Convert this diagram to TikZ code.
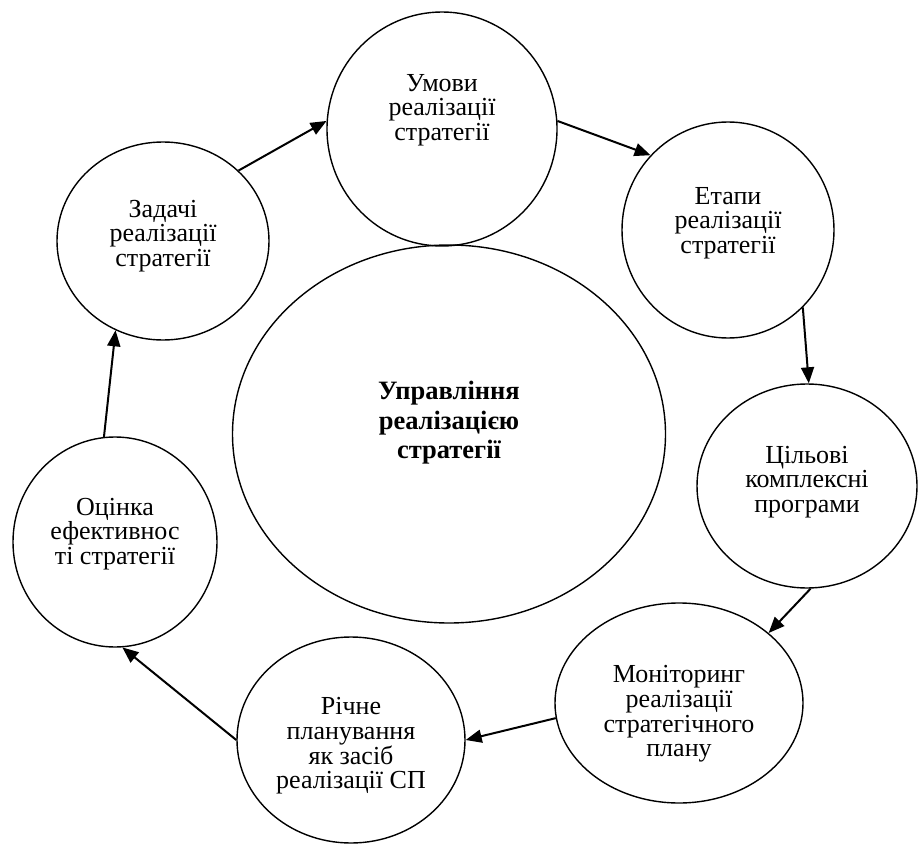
\documentclass[tikz,border=0pt]{standalone}
\usepackage{fontspec}
\setmainfont{Liberation Serif}
\usetikzlibrary{shapes.geometric}
\usetikzlibrary{arrows.meta}

\begin{document}
\begin{tikzpicture}[x=1pt, y=-1pt,
        stage/.style={draw=black, ellipse, line width=1.4pt, inner sep=0pt},
        lbl/.style={align=center, inner sep=0pt, font=\fontsize{26}{24.7}\selectfont},
        flow/.style={-{Triangle[length=16pt, width=13pt]}, line width=2pt}]
        \useasboundingbox (0,0) rectangle (918,845);

        \node(centre) [stage, minimum width=433, minimum height=378] at (449, 434) {};
        \node(centre-t) [align=center, inner sep=0pt, font=\fontsize{26.5}{29.5}\selectfont\bfseries] at (449, 423) {Управління\\реалізацією\\стратегії};

        \node(umovy) [stage, minimum width=230, minimum height=234] at (442, 129) {};
        \node(umovy-t) [lbl] at (442, 110) {Умови\\реалізації\\стратегії};

        \node(etapy) [stage, minimum width=212, minimum height=216] at (728, 230) {};
        \node(etapy-t) [lbl] at (728, 223) {Етапи\\реалізації\\стратегії};

        \node(tsilovi) [stage, minimum width=220, minimum height=204] at (807, 486) {};
        \node(tsilovi-t) [lbl] at (807, 482) {Цільові\\комплексні\\програми};

        \node(monitoring) [stage, minimum width=248, minimum height=200] at (679, 703) {};
        \node(monitoring-t) [lbl] at (679, 714) {Моніторинг\\реалізації\\стратегічного\\плану};

        \node(richne) [stage, minimum width=228, minimum height=206] at (351, 740) {};
        \node(richne-t) [lbl] at (351, 746) {Річне\\планування\\як засіб\\реалізації СП};

        \node(otsinka) [stage, minimum width=204, minimum height=210] at (115, 542) {};
        \node(otsinka-t) [lbl] at (115, 534) {Оцінка\\ефективнос\\ті стратегії};

        \node(zadachi) [stage, minimum width=212, minimum height=198] at (163, 241) {};
        \node(zadachi-t) [lbl] at (163, 236) {Задачі\\реалізації\\стратегії};

        \draw[flow] (zadachi.43) -- (umovy.176);
        \draw[flow] (umovy.4) -- (etapy.136);
        \draw[flow] (etapy.-46) -- (tsilovi.89);
        \draw[flow] (tsilovi.-88) -- (monitoring.38);
        \draw[flow] (monitoring.187) -- (richne.0);
        \draw[flow] (richne.180) -- (otsinka.-86);
        \draw[flow] (otsinka.96) -- (zadachi.242);
    \end{tikzpicture}
\end{document}
